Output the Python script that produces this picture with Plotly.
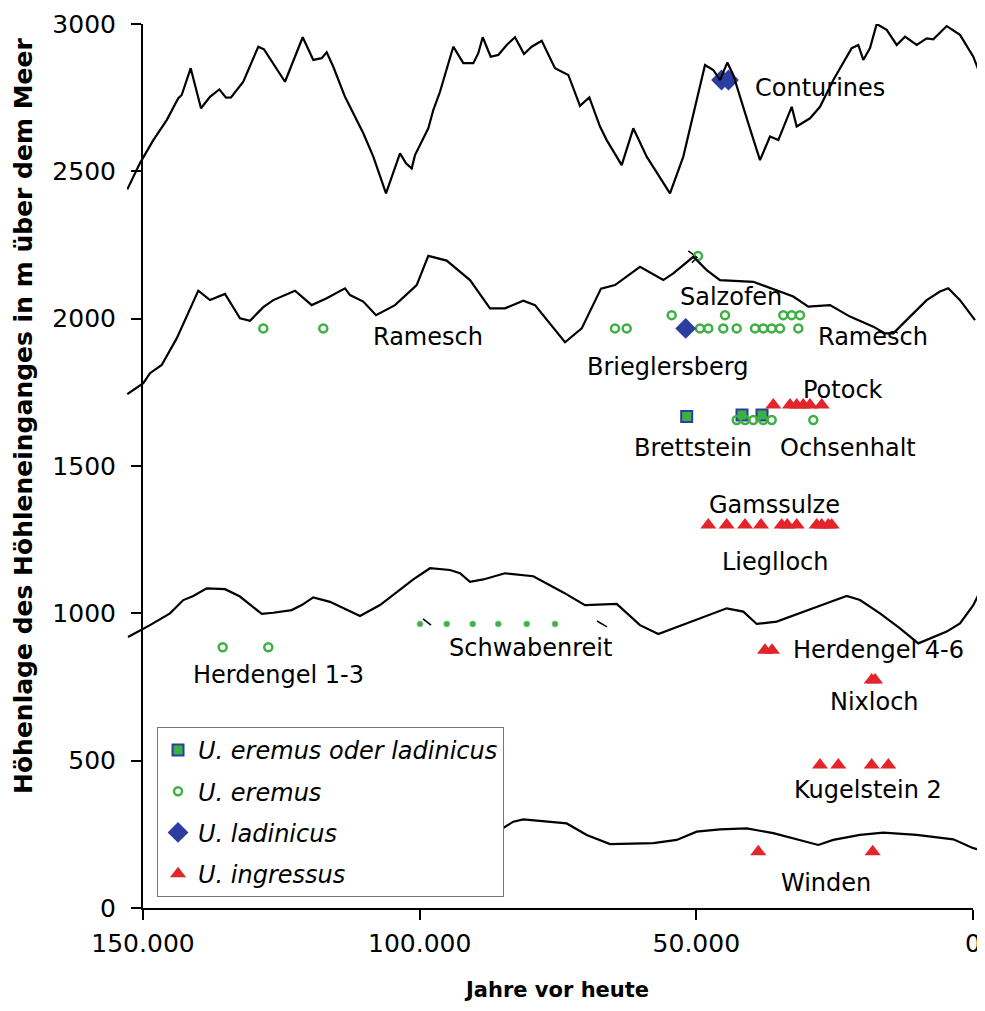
import plotly.graph_objects as go

# ---- Höhenkurven (Jahre vor heute / m über dem Meer) ----
conturines_x = [152838, 150542, 148139, 145717, 143620, 143006, 141379, 139518, 137892, 136211,
                135000, 134096, 131873, 129163, 128133, 124337, 121139, 119223, 117705, 116801,
                115608, 113494, 110187, 108380, 106084, 104458, 103554, 102470, 101440, 100843,
                98440, 97536, 96325, 93922, 92115, 90307, 89403, 88608, 87163, 85789,
                84271, 82771, 81145, 79755, 77945, 75542, 73138, 71024, 69343, 67410,
                66199, 63488, 61392, 58970, 54759, 52355, 48434, 46934, 45723, 44404,
                43319, 40608, 38494, 36687, 35187, 32765, 31861, 29458, 27651, 25247,
                21922, 20729, 19825, 18614, 17404, 15596, 13789, 12289, 10175, 8367,
                7175, 4753, 2349, -54, -2169]
conturines_y = [2439, 2528, 2606, 2674, 2748, 2759, 2850, 2714, 2753, 2778,
                2750, 2751, 2804, 2923, 2914, 2804, 2955, 2878, 2884, 2904,
                2855, 2753, 2629, 2550, 2425, 2516, 2561, 2527, 2510, 2555,
                2646, 2708, 2770, 2923, 2867, 2867, 2901, 2955, 2889, 2895,
                2929, 2955, 2898, 2923, 2943, 2850, 2827, 2722, 2751, 2652,
                2606, 2521, 2646, 2550, 2425, 2550, 2861, 2844, 2810, 2869,
                2827, 2663, 2538, 2618, 2606, 2719, 2652, 2680, 2719, 2810,
                2918, 2929, 2878, 2918, 3000, 2980, 2929, 2957, 2929, 2951,
                2948, 2993, 2963, 2889, 2787]

ramesch_x = [152838, 149946, 148735, 146621, 143910, 140006, 137892, 135181, 132470, 130663,
             128259, 126452, 122530, 119512, 116801, 113494, 112590, 110187, 107892, 104458,
             100536, 98440, 95115, 90904, 87289, 84578, 81271, 79157, 73735, 70717,
             67229, 64699, 60181, 55970, 54163, 50548, 48127, 45723, 39705, 35476,
             32476, 29765, 25843, 22229, 18018, 15904, 14404, 11386, 8367, 5964,
             4464, 2349, -361]
ramesch_y = [1744, 1781, 1815, 1843, 1933, 2095, 2063, 2084, 2001, 1993,
             2039, 2063, 2095, 2046, 2069, 2103, 2080, 2058, 2012, 2046,
             2114, 2213, 2197, 2131, 2035, 2035, 2061, 2046, 1920, 1967,
             2102, 2114, 2176, 2131, 2154, 2210, 2165, 2131, 2125, 2097,
             2075, 2041, 2046, 2007, 1973, 1950, 1950, 2007, 2063, 2092,
             2103, 2063, 1995]

schwaben_x = [152711, 148735, 145121, 142717, 140910, 138488, 135181, 132470, 128549, 126452,
              123127, 121320, 119223, 116205, 110783, 107169, 101151, 98133, 94518, 92711,
              90904, 88500, 84578, 79464, 74042, 70120, 64392, 60181, 56873, 51741,
              48127, 44512, 41512, 39090, 35476, 31265, 26440, 22825, 20422, 16807,
              13193, 9885, 7771, 4753, 2349, -54, -1572, -2169]
schwaben_y = [920, 960, 1000, 1045, 1059, 1085, 1082, 1057, 998, 1002,
              1011, 1028, 1054, 1039, 991, 1028, 1115, 1153, 1147, 1136,
              1107, 1115, 1136, 1126, 1071, 1028, 1032, 960, 930, 966,
              994, 1017, 1006, 964, 972, 1000, 1034, 1059, 1045, 1000,
              949, 898, 915, 938, 966, 1028, 1085, 1096]

winden_x = [89693, 85482, 83078, 81271, 73428, 69814, 65602, 57777, 53548, 49934,
            45723, 40898, 36090, 31265, 27958, 25247, 20422, 16211, 10175, 3560,
            -54, -1861]
winden_y = [231, 265, 293, 301, 287, 248, 217, 220, 231, 259,
            267, 270, 254, 231, 214, 231, 248, 256, 248, 233,
            203, 194]

# small connector strokes
stroke1_x = [99398, 97952]
stroke1_y = [981, 960]
stroke2_x = [67952, 66145]
stroke2_y = [974, 954]
stroke3_x = [51450, 49900, 50800]
stroke3_y = [2230, 2208, 2190]

# ---- Funde ----
# U. eremus oder ladinicus
eol_x = [51741, 41747, 38133]
eol_y = [1668, 1673, 1673]

# U. eremus
ere_x = [128259, 117416,
         64699, 62584, 49337, 47837, 45126, 42705, 39398, 37898, 36378, 34880, 31572,
         54452, 44819, 34283, 32765, 31265,
         49699,
         42705, 41205, 39705, 37898, 36378, 28861,
         135597, 127355]
ere_y = [1967, 1967,
         1967, 1967, 1967, 1967, 1967, 1967, 1967, 1967, 1967, 1967, 1967,
         2012, 2012, 2012, 2012, 2012,
         2213,
         1656, 1656, 1656, 1656, 1656, 1656,
         885, 885]
# U. eremus (Schwabenreit)
ere_small_x = [99940, 95114, 90416, 85789, 80657, 75542]
ere_small_y = [964, 964, 964, 964, 964, 964]

# U. ladinicus
lad_x = [45452, 44187, 51922]
lad_y = [2810, 2810, 1967]

# U. ingressus
ing_x = [36090, 33072, 31861, 30669, 29458, 27343,
         47837, 44512, 41205, 38313, 34572, 33560, 31862, 28247, 27343, 26150, 25536,
         37590, 36325,
         18300, 17700,
         27651, 24343, 18307, 15307,
         38801, 18127]
ing_y = [1707, 1707, 1707, 1707, 1707, 1707,
         1300, 1300, 1300, 1300, 1300, 1300, 1300, 1300, 1300, 1300, 1300,
         875, 875,
         774, 774,
         485, 485, 485, 485,
         191, 191]

# ---- Beschriftungen ----
label_text = ["Conturines", "Salzofen", "Ramesch", "Ramesch", "Brieglersberg", "Potock",
              "Brettstein", "Ochsenhalt", "Gamssulze", "Lieglloch", "Herdengel 4-6",
              "Nixloch", "Kugelstein 2", "Winden", "Herdengel 1-3", "Schwabenreit"]
label_x = [27651, 43735, 98404, 17982, 55120, 23440,
           50637, 22536, 35783, 35783, 17114,
           17711, 18921, 26602, 125422, 79970]
label_y = [2783, 2075, 1938, 1939, 1837, 1758,
           1560, 1560, 1368, 1175, 876,
           700, 400, 84, 791, 882]

x_ticks = [150000, 100000, 50000, 0]
y_ticks = [0, 500, 1000, 1500, 2000, 2500, 3000]

GREEN = "#3db043"
BLUE = "#2b3e9f"
RED = "#e2252b"
FONT = "DejaVu Sans"

fig = go.Figure()

for xs, ys in [(conturines_x, conturines_y), (ramesch_x, ramesch_y),
               (schwaben_x, schwaben_y), (winden_x, winden_y)]:
    fig.add_trace(go.Scatter(x=xs, y=ys, mode="lines", xaxis="x2", yaxis="y",
                             line=dict(color="black", width=2.2),
                             showlegend=False, hoverinfo="skip"))

for xs, ys in [(stroke1_x, stroke1_y), (stroke2_x, stroke2_y), (stroke3_x, stroke3_y)]:
    fig.add_trace(go.Scatter(x=xs, y=ys, mode="lines", line=dict(color="black", width=1.5),
                             showlegend=False, hoverinfo="skip"))

fig.add_trace(go.Scatter(x=eol_x, y=eol_y, mode="markers", name="U. eremus oder ladinicus",
                         legendgroup="a",
                         marker=dict(symbol="square", size=11, color=GREEN,
                                     line=dict(color=BLUE, width=2))))
fig.add_trace(go.Scatter(x=ere_x, y=ere_y, mode="markers", name="U. eremus",
                         legendgroup="b",
                         marker=dict(symbol="circle-open", size=8, color=GREEN,
                                     line=dict(color=GREEN, width=2.5))))
fig.add_trace(go.Scatter(x=ere_small_x, y=ere_small_y, mode="markers", name="U. eremus",
                         legendgroup="b", showlegend=False,
                         marker=dict(symbol="circle", size=6, color=GREEN,
                                     line=dict(color="#7fd07f", width=1))))
fig.add_trace(go.Scatter(x=lad_x, y=lad_y, mode="markers", name="U. ladinicus",
                         legendgroup="c",
                         marker=dict(symbol="diamond", size=16, color=BLUE)))
fig.add_trace(go.Scatter(x=ing_x, y=ing_y, mode="markers", name="U. ingressus",
                         legendgroup="d",
                         marker=dict(symbol="triangle-up", size=14, color=RED)))

annotations = []
for t, x, y in zip(label_text, label_x, label_y):
    annotations.append(dict(text=t, x=x, y=y, xref="x", yref="y", showarrow=False,
                            xanchor="center", yanchor="middle",
                            font=dict(family=FONT, size=24, color="black")))
annotations.append(dict(text="Höhenlage des Höhleneinganges in m über dem Meer",
                        x=-0.12, y=0.5566, xref="paper", yref="paper", showarrow=False,
                        textangle=-90, xanchor="center", yanchor="middle",
                        font=dict(family=FONT, size=25, color="black", weight="bold")))
annotations.append(dict(text="Jahre vor heute", x=0.5, y=-0.0928, xref="paper", yref="paper",
                        showarrow=False, xanchor="center", yanchor="middle",
                        font=dict(family=FONT, size=21, color="black", weight="bold")))

axis_common = dict(showline=True, linecolor="black", linewidth=2, ticks="outside",
                   ticklen=10, tickwidth=2, tickcolor="black", showgrid=False,
                   zeroline=False, automargin=False,
                   tickfont=dict(family=FONT, size=25, color="black"))

fig.update_layout(
    width=977, height=995,
    margin=dict(l=119, r=0, t=16, b=95, pad=0, autoexpand=False),
    paper_bgcolor="white", plot_bgcolor="rgba(0,0,0,0)",
    separators=",.",
    xaxis=dict(domain=[0.018648, 0.986014], range=[150000, 0], autorange=False,
               tickvals=x_ticks, tickformat=",", anchor="y", ticklabelstandoff=2,
               ticklabeloverflow="allow", **axis_common),
    xaxis2=dict(domain=[0, 1], range=[152892, -2169], autorange=False, visible=False,
                anchor="y", automargin=False),
    yaxis=dict(range=[0, 3000], autorange=False, tickvals=y_ticks, tickformat="d",
               anchor="x", ticklabelstandoff=10, **axis_common),
    legend=dict(x=0.035, y=0.2048, xanchor="left", yanchor="top",
                bgcolor="white", bordercolor="#777777", borderwidth=1,
                font=dict(family=FONT, size=24, color="black", style="italic"),
                tracegroupgap=7, itemclick=False),
    annotations=annotations,
    showlegend=True,
)

fig.write_html("out.html")
